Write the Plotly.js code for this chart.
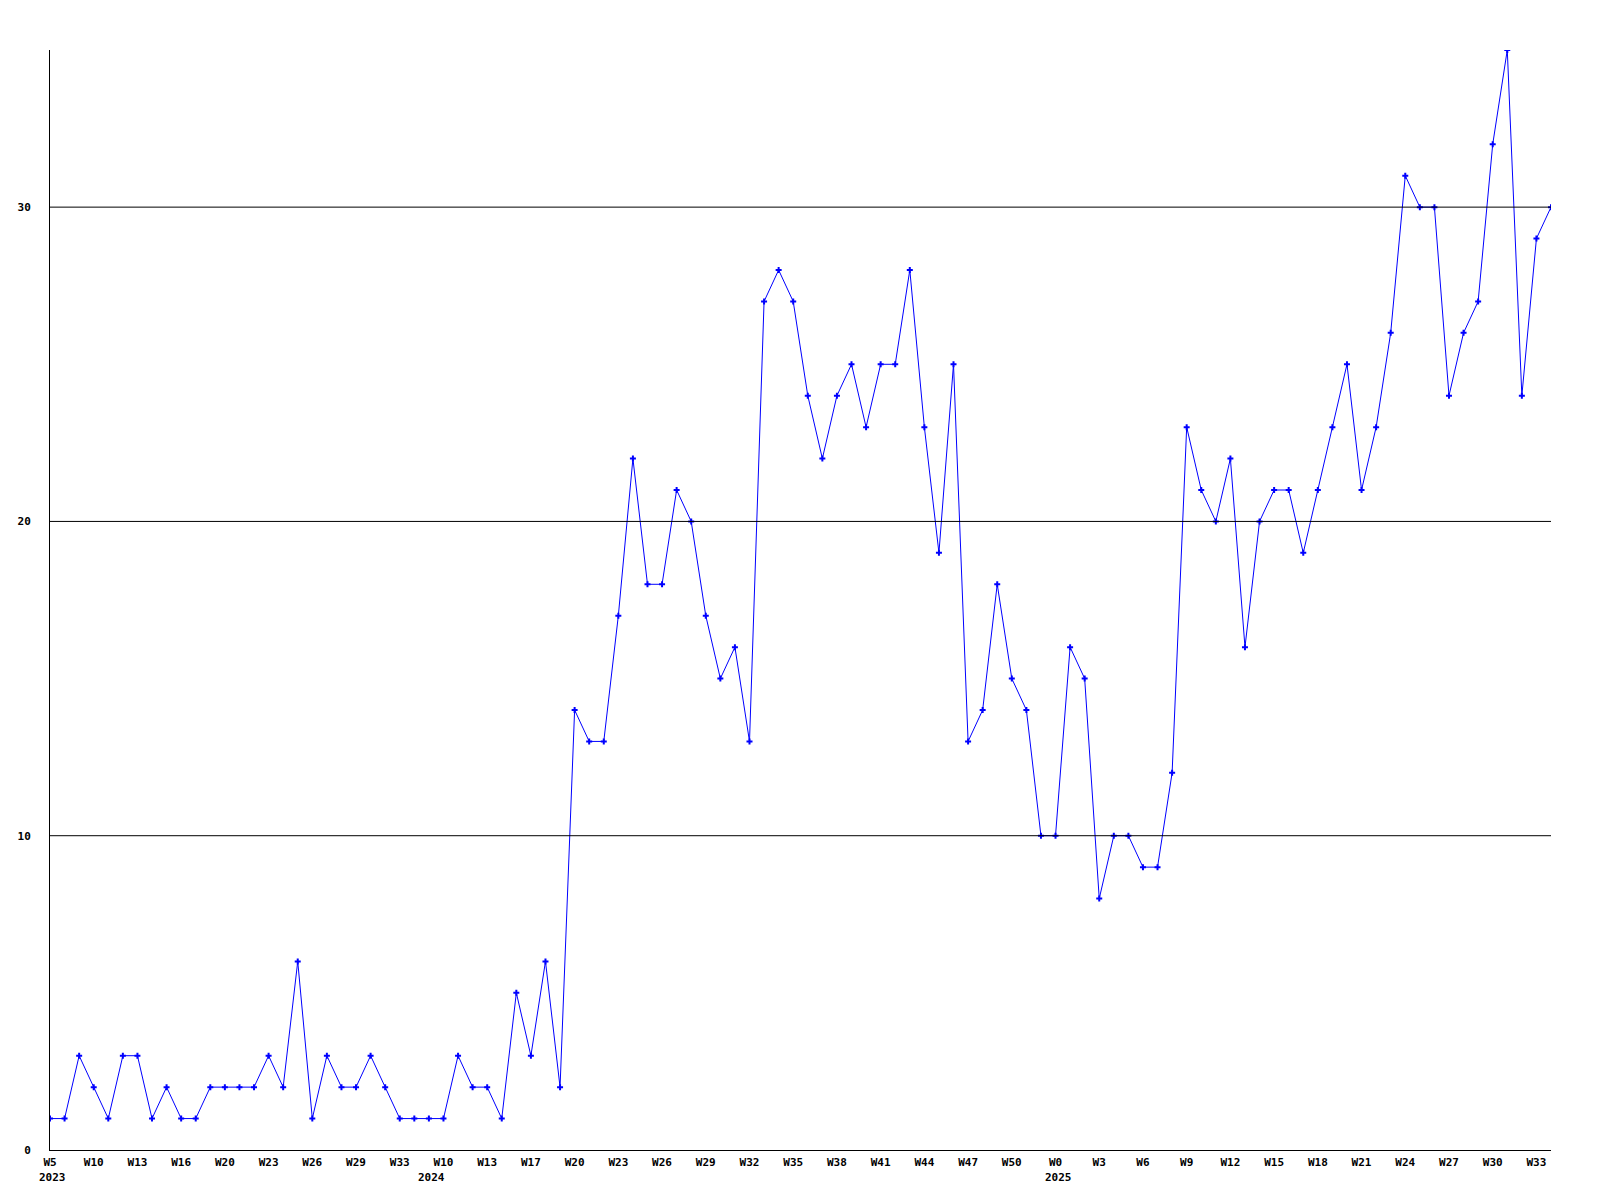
<!DOCTYPE html>
<html>
<head>
<meta charset="utf-8">
<script src="https://cdn.plot.ly/plotly-3.0.1.min.js"></script>
<style>
  html, body { margin: 0; padding: 0; background: #ffffff; }
  #chart { width: 1600px; height: 1200px; }
</style>
</head>
<body>
<div id="chart"></div>
<script>
// Weekly counts, one per point (104 points)
const values = [
  1, 1, 3, 2, 1, 3, 3, 1, 2, 1,
  1, 2, 2, 2, 2, 3, 2, 6, 1, 3,
  2, 2, 3, 2, 1, 1, 1, 1, 3, 2,
  2, 1, 5, 3, 6, 2, 14, 13, 13, 17,
  22, 18, 18, 21, 20, 17, 15, 16, 13, 27,
  28, 27, 24, 22, 24, 25, 23, 25, 25, 28,
  23, 19, 25, 13, 14, 18, 15, 14, 10, 10,
  16, 15, 8, 10, 10, 9, 9, 12, 23, 21,
  20, 22, 16, 20, 21, 21, 19, 21, 23, 25,
  21, 23, 26, 31, 30, 30, 24, 26, 27, 32,
  35, 24, 29, 30
];

// Tick labels, one every 3rd point
const weekLabels = [
  "W5", "W10", "W13", "W16", "W20", "W23", "W26", "W29", "W33",
  "W10", "W13", "W17", "W20", "W23", "W26", "W29", "W32", "W35", "W38",
  "W41", "W44", "W47", "W50", "W0", "W3", "W6", "W9", "W12", "W15",
  "W18", "W21", "W24", "W27", "W30", "W33"
];
const tickStep = 3;

// Year labels and the point index they sit under
const years = ["2023", "2024", "2025"];
const yearPositions = [0.2, 26.2, 69.2];

const gridValues = [10, 20, 30];
const yTicks = [0, 10, 20, 30];

const xs = values.map((v, i) => i);
const tickvals = weekLabels.map((w, k) => k * tickStep);

const font = { family: "DejaVu Sans Mono, Liberation Mono, monospace", size: 11, color: "#000000", weight: "bold" };

const trace = {
  x: xs,
  y: values,
  type: "scatter",
  mode: "lines+markers",
  line: { color: "#0000ff", width: 1 },
  marker: { color: "#0000ff", symbol: "cross", size: 5, line: { width: 0 } },
  hoverinfo: "skip",
  cliponaxis: true
};

const shapes = gridValues.map(v => ({
  type: "line", xref: "paper", x0: 0, x1: 1, yref: "y", y0: v, y1: v,
  line: { color: "#000000", width: 1 }, layer: "above"
}));

const annotations = years.map((t, k) => ({
  text: t, x: yearPositions[k], xref: "x", y: 0, yref: "paper",
  xanchor: "center", yanchor: "middle", yshift: -27,
  showarrow: false, font: font
}));

const layout = {
  width: 1600,
  height: 1200,
  margin: { l: 50, r: 49, t: 50, b: 50, pad: 0 },
  paper_bgcolor: "#ffffff",
  plot_bgcolor: "#ffffff",
  showlegend: false,
  font: font,
  shapes: shapes,
  annotations: annotations,
  xaxis: {
    range: [0, values.length - 1],
    tickmode: "array",
    tickvals: tickvals,
    ticktext: weekLabels,
    tickangle: 0,
    showgrid: false,
    zeroline: false,
    showline: true,
    linecolor: "#000000",
    linewidth: 1,
    ticks: "",
    ticklabelstandoff: 2,
    tickfont: font,
    fixedrange: true
  },
  yaxis: {
    range: [0, 35],
    tickmode: "array",
    tickvals: yTicks,
    ticktext: yTicks.map(String),
    showgrid: false,
    zeroline: false,
    showline: true,
    linecolor: "#000000",
    linewidth: 1,
    ticks: "",
    ticklabelstandoff: 16,
    tickfont: font,
    fixedrange: true
  }
};

Plotly.newPlot("chart", [trace], layout, { staticPlot: true, displayModeBar: false });
</script>
</body>
</html>
